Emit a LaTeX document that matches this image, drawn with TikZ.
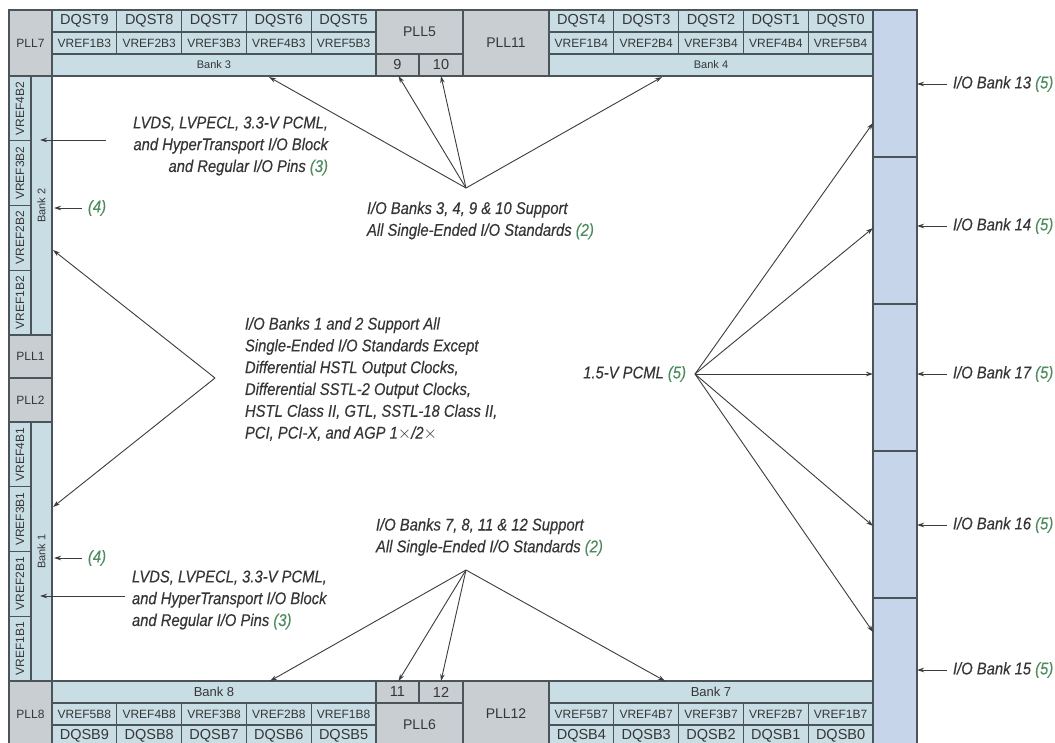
\documentclass[tikz,border=0pt]{standalone}
\usepackage{fontspec}
\usepackage{graphicx}
\setmainfont{Liberation Sans}
\newfontfamily\annfont[FakeStretch=0.87,FakeBold=0.25]{Liberation Sans}
\usetikzlibrary{arrows.meta}
\definecolor{bankc}{HTML}{C9DDE5}
\definecolor{pllc}{HTML}{C9CED3}
\definecolor{iobc}{HTML}{C6D5EA}
\definecolor{edgec}{HTML}{4B5458}
\definecolor{txtc}{HTML}{363636}
\definecolor{arrc}{HTML}{3C3C3C}
\definecolor{grn}{HTML}{4E8B5E}
\newcommand\gn[1]{\textcolor{grn}{#1}}
\newcommand\cellbox[7]{\node[#1, minimum width={(#5-#3)*1pt}, minimum height={(#6-#4)*1pt}] (#2) at (#3,#4) {#7};}
\tikzset{
 cellbase/.style={draw=edgec, line width=1.1pt, inner sep=0pt, outer sep=0pt, text=txtc, anchor=north west},
 bk/.style={cellbase, fill=bankc},
 pl/.style={cellbase, fill=pllc},
 iob/.style={cellbase, fill=iobc},
 fbig/.style={font=\fontsize{14.5}{16}\selectfont},
 fpll/.style={font=\fontsize{14}{16}\selectfont},
 fmid/.style={font=\fontsize{12}{14}\selectfont},
 fbank/.style={font=\fontsize{13}{14}\selectfont},
 fsml/.style={font=\fontsize{11}{13}\selectfont},
 ann/.style={font=\annfont\itshape\fontsize{17}{21.8}\selectfont, text=txtc, inner sep=0pt, outer sep=0pt},
 arr/.style={draw=arrc, line width=0.9pt, -{Stealth[length=7pt,width=4.5pt]}},
}
\begin{document}
\begin{tikzpicture}[x=1pt,y=-1pt]
\useasboundingbox (0,0) rectangle (1055,742);
\fill[white] (0,0) rectangle (1055,742);
% ---------- top ----------
\cellbox{pl,fmid}{pll7}{9}{10}{52}{76}{PLL7}
\foreach \i/\d/\v in {0/9/1,1/8/2,2/7/3,3/6/4,4/5/5}{
  \pgfmathsetmacro\xa{52+64.8*\i}\pgfmathsetmacro\xb{52+64.8*(\i+1)}
  \cellbox{bk,fbig}{dqst\d}{\xa}{10}{\xb}{32}{DQST\d}
  \cellbox{bk,fmid}{vrefT\v}{\xa}{32}{\xb}{54}{VREF\v B3}
}
\cellbox{bk,fsml}{bank3}{52}{54}{376}{76}{Bank 3}
\cellbox{pl,fpll}{pll5}{376}{10}{463}{54}{PLL5}
\cellbox{pl,fbig}{c9}{376}{54}{419}{76}{9}
\cellbox{pl,fbig}{c10}{419}{54}{463}{76}{10}
\cellbox{pl,fpll}{pll11}{463}{10}{549}{76}{PLL11}
\foreach \i/\d/\v in {0/4/1,1/3/2,2/2/3,3/1/4,4/0/5}{
  \pgfmathsetmacro\xa{549+64.8*\i}\pgfmathsetmacro\xb{549+64.8*(\i+1)}
  \cellbox{bk,fbig}{dqstR\d}{\xa}{10}{\xb}{32}{DQST\d}
  \cellbox{bk,fmid}{vrefTR\v}{\xa}{32}{\xb}{54}{VREF\v B4}
}
\cellbox{bk,fsml}{bank4}{549}{54}{873}{76}{Bank 4}
% ---------- left ----------
\cellbox{bk,fsml}{b2}{31}{76}{52}{335}{\rotatebox{90}{Bank 2}}
\foreach \i/\v in {0/4,1/3,2/2,3/1}{
  \pgfmathsetmacro\ya{76+64.75*\i}\pgfmathsetmacro\yb{76+64.75*(\i+1)}
  \cellbox{bk,fmid}{vrefL\v}{9}{\ya}{31}{\yb}{\rotatebox{90}{VREF\v B2}}
}
\cellbox{pl,fmid}{pll1}{9}{335}{52}{378}{PLL1}
\cellbox{pl,fmid}{pll2}{9}{378}{52}{422}{PLL2}
\cellbox{bk,fsml}{b1}{31}{422}{52}{681}{\rotatebox{90}{Bank 1}}
\foreach \i/\v in {0/4,1/3,2/2,3/1}{
  \pgfmathsetmacro\ya{422+64.75*\i}\pgfmathsetmacro\yb{422+64.75*(\i+1)}
  \cellbox{bk,fmid}{vrefLB\v}{9}{\ya}{31}{\yb}{\rotatebox{90}{VREF\v B1}}
}
% ---------- bottom ----------
\cellbox{pl,fmid}{pll8}{9}{681}{52}{747}{PLL8}
\cellbox{bk,fbank}{bank8}{52}{681}{376}{703}{Bank 8}
\foreach \i/\d/\v in {0/9/5,1/8/4,2/7/3,3/6/2,4/5/1}{
  \pgfmathsetmacro\xa{52+64.8*\i}\pgfmathsetmacro\xb{52+64.8*(\i+1)}
  \cellbox{bk,fmid}{vrefB\v}{\xa}{703}{\xb}{725}{VREF\v B8}
  \cellbox{bk,fbig}{dqsb\d}{\xa}{725}{\xb}{747}{DQSB\d}
}
\cellbox{pl,fbig}{c11}{376}{681}{419}{703}{11}
\cellbox{pl,fbig}{c12}{419}{681}{463}{703}{12}
\cellbox{pl,fpll}{pll6}{376}{703}{463}{747}{PLL6}
\cellbox{pl,fpll}{pll12}{463}{681}{549}{747}{PLL12}
\cellbox{bk,fbank}{bank7}{549}{681}{873}{703}{Bank 7}
\foreach \i/\d/\v in {0/4/5,1/3/4,2/2/3,3/1/2,4/0/1}{
  \pgfmathsetmacro\xa{549+64.8*\i}\pgfmathsetmacro\xb{549+64.8*(\i+1)}
  \cellbox{bk,fmid}{vrefBR\v}{\xa}{703}{\xb}{725}{VREF\v B7}
  \cellbox{bk,fbig}{dqsbR\d}{\xa}{725}{\xb}{747}{DQSB\d}
}
% ---------- right column ----------
\cellbox{iob}{r13}{873}{10}{917}{157}{}
\cellbox{iob}{r14}{873}{157}{917}{304}{}
\cellbox{iob}{r17}{873}{304}{917}{451}{}
\cellbox{iob}{r16}{873}{451}{917}{598}{}
\cellbox{iob}{r15}{873}{598}{917}{747}{}
\foreach \n/\y in {13/84,14/226,17/374,16/525,15/670}{
  \node[ann, anchor=west] (l\n) at (953,\y) {I/O Bank \n\ \gn{(5)}};
  \draw[arr] ([xshift=-6pt]l\n.west) -- (r\n.east |- l\n.west);
}
% ---------- annotations ----------
\node[ann, align=right, anchor=east] (lvT) at (328,146) {LVDS, LVPECL, 3.3-V PCML,\\and HyperTransport I/O Block\\and Regular I/O Pins \gn{(3)}};
\coordinate (lvTs) at (106,140);
\coordinate (lvTt) at (40,140);
\draw[arr] (lvTs) -- (lvTt);
\node[ann, anchor=west] (n4a) at (88,208) {\gn{(4)}};
\draw[arr] ([xshift=-6pt]n4a.west) -- ([xshift=2pt]b2.east |- n4a.west);

\node[ann, align=left, anchor=west] (tT) at (367,220.5) {I/O Banks 3, 4, 9 \& 10 Support\\All Single-Ended I/O Standards \gn{(2)}};
\coordinate (sT) at (466,188);
\coordinate (tB3) at (269,77);
\coordinate (tB4) at (662,77);
\draw[arr] (sT) -- (tB3);
\draw[arr] (sT) -- ([xshift=1pt]c9.south);
\draw[arr] (sT) -- (c10.south);
\draw[arr] (sT) -- (tB4);

\node[ann, align=left, anchor=west] (ctr) at (245,379) {I/O Banks 1 and 2 Support All\\Single-Ended I/O Standards Except\\Differential HSTL Output Clocks,\\Differential SSTL-2 Output Clocks,\\HSTL Class II, GTL, SSTL-18 Class II,\\PCI, PCI-X, and AGP 1$\times$/2$\times$};
\coordinate (vL) at (215,378);
\coordinate (tL2) at (53,250);
\coordinate (tL1) at (53,507);
\draw[arr] (vL) -- (tL2);
\draw[arr] (vL) -- (tL1);

\node[ann, anchor=west] (n4b) at (88,558) {\gn{(4)}};
\draw[arr] ([xshift=-6pt]n4b.west) -- ([xshift=2pt]b1.east |- n4b.west);
\node[ann, align=left, anchor=west] (lvB) at (132,600) {LVDS, LVPECL, 3.3-V PCML,\\and HyperTransport I/O Block\\and Regular I/O Pins \gn{(3)}};
\coordinate (lvBs) at (125,596);
\coordinate (lvBt) at (40,596);
\draw[arr] (lvBs) -- (lvBt);

\node[ann, align=left, anchor=west] (tBm) at (376,537) {I/O Banks 7, 8, 11 \& 12 Support\\All Single-Ended I/O Standards \gn{(2)}};
\coordinate (sB) at (466,570);
\coordinate (tB8) at (270,681);
\coordinate (tB7) at (665,681);
\draw[arr] (sB) -- (tB8);
\draw[arr] (sB) -- ([xshift=1pt]c11.north);
\draw[arr] (sB) -- (c12.north);
\draw[arr] (sB) -- (tB7);

\node[ann, anchor=east] (pcml) at (686,374) {1.5-V PCML \gn{(5)}};
\coordinate (sR) at (695,374);
\foreach \y in {123,228,374,526,632}{
  \draw[arr] (sR) -- (873,\y);
}
\end{tikzpicture}
\end{document}
